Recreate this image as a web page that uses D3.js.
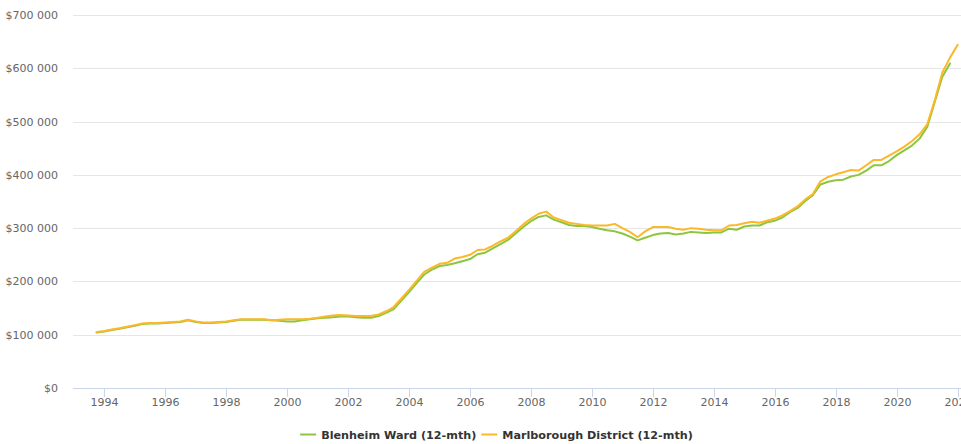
<!DOCTYPE html>
<html>
<head>
<meta charset="utf-8">
<script src="https://cdn.jsdelivr.net/npm/d3@7"></script>
<style>
  html, body { margin: 0; padding: 0; background: #fff; }
  svg { display: block; font-family: "DejaVu Sans", Verdana, sans-serif; }
</style>
</head>
<body>
<svg id="chart" width="961" height="444"></svg>
<script>
// quarterly series, values in $ thousands, first quarter = Oct 1993
var firstQuarter = new Date(1993, 9, 1);

var seriesNames = ['Blenheim Ward (12-mth)', 'Marlborough District (12-mth)'];
var seriesColors = ['#8cc63f', '#fbb829'];

var blenheim = [
  104,
  106, 109, 111, 114,
  117, 120, 121, 121,
  122, 123, 124, 127,
  124, 122, 122, 123,
  124, 126, 128, 128,
  128, 128, 127, 126,
  125, 125, 127, 129,
  131, 132, 133, 134,
  134, 133, 132, 132,
  135, 141, 148, 164,
  180, 197, 213, 222,
  229, 231, 234, 238,
  242, 251, 254, 262,
  270, 278, 290, 302,
  313, 321, 324, 316,
  311, 306, 304, 304,
  302, 299, 296, 294,
  290, 284, 277, 282,
  287, 290, 291, 288,
  290, 293, 292, 291,
  292, 292, 299, 297,
  303, 305, 305, 311,
  314, 320, 330, 338,
  351, 362, 382, 387,
  390, 391, 397, 400,
  408, 418, 418, 426,
  437, 446, 455, 468,
  490, 537, 584, 609
];

var marlborough = [
  105,
  107, 110, 112, 115,
  118, 121, 122, 122,
  123, 124, 125, 128,
  125, 123, 123, 124,
  125, 127, 129, 129,
  129, 129, 127, 128,
  129, 129, 129, 130,
  132, 134, 136, 137,
  136, 135, 135, 135,
  138, 144, 152, 168,
  184, 201, 218, 226,
  233, 235, 243, 246,
  250, 259, 260, 267,
  275, 282, 294, 307,
  318, 327, 331, 320,
  315, 310, 308, 306,
  305, 305, 305, 308,
  300, 293, 283, 294,
  302, 302, 302, 299,
  297, 300, 299, 297,
  296, 296, 305, 306,
  309, 312, 310, 314,
  318, 324, 332, 341,
  354, 364, 388, 396,
  401, 405, 409, 408,
  418, 428, 428, 436,
  444, 453, 463, 476,
  495, 540, 592, 620,
  644
];

var xTickYears = [1994, 1996, 1998, 2000, 2002, 2004, 2006, 2008, 2010, 2012, 2014, 2016, 2018, 2020, 2022];
var yTickValues = [0, 100000, 200000, 300000, 400000, 500000, 600000, 700000];

var svg = d3.select('#chart');

var x = d3.scaleTime()
  .domain([new Date(1994, 0, 1), new Date(2022, 0, 1)])
  .range([104.3, 957.7]);

var y = d3.scaleLinear()
  .domain([0, 700000])
  .range([388, 15]);

var plotLeft = 73, plotRight = 961;

var locale = d3.formatLocale({ decimal: '.', thousands: ' ', grouping: [3], currency: ['$', ''] });
var fmt = locale.format('$,');

function quarterDate(i) {
  return d3.timeMonth.offset(firstQuarter, i * 3);
}

// gridlines + y labels
var grid = svg.append('g');
yTickValues.forEach(function(v) {
  if (v > 0) {
    grid.append('line')
      .attr('x1', plotLeft).attr('x2', plotRight)
      .attr('y1', Math.round(y(v)) + 0.5).attr('y2', Math.round(y(v)) + 0.5)
      .attr('stroke', '#e6e6e6').attr('stroke-width', 1);
  }
  grid.append('text')
    .attr('x', 58)
    .attr('y', y(v) + 4)
    .attr('text-anchor', 'end')
    .attr('font-size', 11)
    .attr('fill', '#666666')
    .text(fmt(v));
});

// x axis (last label is cut by the right edge, same as the original)
var xAxis = svg.append('g');
xAxis.append('line')
  .attr('x1', plotLeft).attr('x2', plotRight)
  .attr('y1', 388.5).attr('y2', 388.5)
  .attr('stroke', '#ccd6eb');
xTickYears.forEach(function(yr) {
  var px = Math.round(x(new Date(yr, 0, 1))) + 0.5;
  xAxis.append('line')
    .attr('x1', px).attr('x2', px)
    .attr('y1', 388).attr('y2', 397)
    .attr('stroke', '#ccd6eb');
  xAxis.append('text')
    .attr('x', px)
    .attr('y', 406)
    .attr('text-anchor', 'middle')
    .attr('font-size', 11)
    .attr('fill', '#666666')
    .text(yr);
});

// lines
var line = d3.line()
  .x(function(d, i) { return x(quarterDate(i)); })
  .y(function(d) { return y(d * 1000); });

[blenheim, marlborough].forEach(function(vals, k) {
  svg.append('path')
    .datum(vals)
    .attr('d', line)
    .attr('fill', 'none')
    .attr('stroke', seriesColors[k])
    .attr('stroke-width', 2)
    .attr('stroke-linejoin', 'round')
    .attr('stroke-linecap', 'round');
});

// legend, laid out left to right then centred
var legend = svg.append('g');
var cursor = 0;
seriesNames.forEach(function(name, k) {
  legend.append('line')
    .attr('x1', cursor).attr('x2', cursor + 16)
    .attr('y1', 434.5).attr('y2', 434.5)
    .attr('stroke', seriesColors[k])
    .attr('stroke-width', 2);
  var t = legend.append('text')
    .attr('x', cursor + 21)
    .attr('y', 438.5)
    .attr('font-size', 11.2)
    .attr('font-weight', 'bold')
    .attr('fill', '#333333')
    .text(name);
  cursor += 21 + t.node().getComputedTextLength() + 5;
});
var legendW = cursor - 5;
legend.attr('transform', 'translate(' + (496.5 - legendW / 2) + ',0)');
</script>
</body>
</html>
